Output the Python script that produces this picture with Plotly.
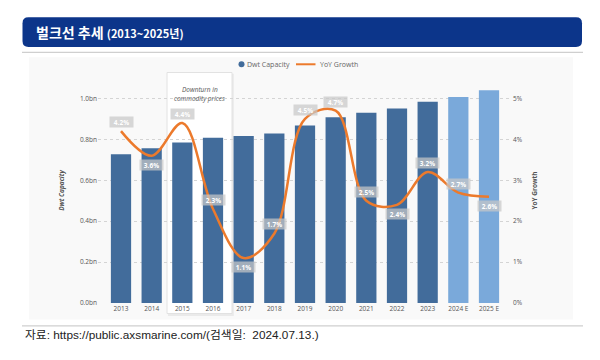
import plotly.graph_objects as go

# ---------------- data ----------------
years = ["2013", "2014", "2015", "2016", "2017", "2018", "2019", "2020",
         "2021", "2022", "2023", "2024 E", "2025 E"]
dwt_capacity_bn = [0.727, 0.756, 0.785, 0.808, 0.816, 0.829, 0.867, 0.908,
                   0.930, 0.951, 0.983, 1.007, 1.040]
yoy_growth_pct = [4.2, 3.6, 4.4, 2.3, 1.1, 1.7, 4.5, 4.7, 2.5, 2.4, 3.2, 2.7, 2.6]
is_estimate = [False] * 11 + [True] * 2
left_tick_vals = [0.0, 0.2, 0.4, 0.6, 0.8, 1.0]
left_tick_text = ["0.0bn", "0.2bn", "0.4bn", "0.6bn", "0.8bn", "1.0bn"]
right_tick_vals = [0, 1, 2, 3, 4, 5]
right_tick_text = ["0%", "1%", "2%", "3%", "4%", "5%"]
# +1 label above point, -1 label below point
label_side = [1, -1, 1, 1, -1, 1, 1, 1, 1, -1, 1, 1, -1]

W, H = 600, 360
def px(x):
    return x / W
def py(y):
    return (H - y) / H

DARK = "#426c9b"
LIGHT = "#7aa9da"
ORANGE = "#ec7a2c"
TXT = "#555555"
FONT = "Open Sans"

fig = go.Figure()

fig.add_trace(go.Bar(
    x=years, y=dwt_capacity_bn,
    marker=dict(color=[LIGHT if e else DARK for e in is_estimate], line=dict(width=0)),
    showlegend=False, name="Dwt Capacity", yaxis="y",
))
fig.add_trace(go.Scatter(
    x=years, y=yoy_growth_pct, mode="lines", name="YoY Growth",
    line=dict(color=ORANGE, width=2.5, shape="spline", smoothing=1.0),
    yaxis="y2", showlegend=False,
))

annotations = []
for i, (v, s) in enumerate(zip(yoy_growth_pct, label_side)):
    annotations.append(dict(
        x=i, y=v, xref="x", yref="y2", text=f"<b>{v}%</b>", showarrow=False,
        yshift=9 * s, width=23, height=10, borderpad=0,
        bgcolor="rgba(200,200,200,0.72)",
        font=dict(family=FONT, size=6.5, color="white"),
    ))

# downturn box text
annotations.append(dict(
    x=2.56, y=py(84), xref="x", yref="paper", showarrow=False,
    text="<i>Downturn in</i>", font=dict(family=FONT, size=6.5, color="#555"),
))
annotations.append(dict(
    x=2.56, y=py(93.5), xref="x", yref="paper", showarrow=False,
    text="<i>commodity prices</i>", font=dict(family=FONT, size=6.5, color="#555"),
))

# custom legend
annotations.append(dict(
    x=px(244.5), y=py(65), xref="paper", yref="paper", xanchor="left", yanchor="middle",
    showarrow=False, text="Dwt Capacity", font=dict(family=FONT, size=7, color="#666"),
))
annotations.append(dict(
    x=px(317.5), y=py(65), xref="paper", yref="paper", xanchor="left", yanchor="middle",
    showarrow=False, text="YoY Growth", font=dict(family=FONT, size=7, color="#666"),
))

# title
annotations.append(dict(
    x=px(34), y=py(32.5), xref="paper", yref="paper", xanchor="left", yanchor="middle",
    showarrow=False,
    text="<b>벌크선 추세</b> <b><span style='font-size:11px'>(2013~2025년)</span></b>",
    font=dict(family="Noto Sans CJK KR", size=14, color="white"),
))
# source
annotations.append(dict(
    x=px(23), y=py(339), xref="paper", yref="paper", xanchor="left", yanchor="middle",
    showarrow=False,
    text="자료: https://public.axsmarine.com/(검색일:  2024.07.13.)",
    font=dict(family="Liberation Sans, Noto Sans CJK KR", size=11.8, color="#222"),
))

r = 6
x0, x1, y0, y1 = 22.5, 582, 17.5, 47.5
band_path = (
    f"M {px(x0 + r)},{py(y0)} L {px(x1 - r)},{py(y0)} "
    f"Q {px(x1)},{py(y0)} {px(x1)},{py(y0 + r)} L {px(x1)},{py(y1 - r)} "
    f"Q {px(x1)},{py(y1)} {px(x1 - r)},{py(y1)} L {px(x0 + r)},{py(y1)} "
    f"Q {px(x0)},{py(y1)} {px(x0)},{py(y1 - r)} L {px(x0)},{py(y0 + r)} "
    f"Q {px(x0)},{py(y0)} {px(x0 + r)},{py(y0)} Z"
)

shapes = [
    dict(type="rect", xref="paper", yref="paper", x0=px(29), x1=px(573), y0=py(323), y1=py(58),
         fillcolor="#f9f9f9", line=dict(width=0), layer="below"),
    dict(type="path", xref="paper", yref="paper", path=band_path,
         fillcolor="#0c358a", line=dict(width=0), layer="below"),
    dict(type="line", xref="paper", yref="paper", x0=px(22), x1=px(583), y0=py(53), y1=py(53),
         line=dict(color="#cfcfcf", width=1.2)),
    dict(type="line", xref="paper", yref="paper", x0=px(22), x1=px(583), y0=py(329.5), y1=py(329.5),
         line=dict(color="#cfcfcf", width=1.2)),
    # downturn box shadow + box
    dict(type="rect", xref="x", yref="paper", x0=1.53, x1=3.68, y0=py(319.5), y1=py(74.5),
         fillcolor="rgba(0,0,0,0.06)", line=dict(width=0), layer="between"),
    dict(type="rect", xref="x", yref="paper", x0=1.50, x1=3.62, y0=py(317), y1=py(73.3),
         fillcolor="white", line=dict(color="#e2e2e2", width=1), layer="between"),
    # legend symbols
    dict(type="circle", xref="paper", yref="paper",
         x0=px(238.5), x1=px(244.5), y0=py(68), y1=py(62),
         fillcolor=DARK, line=dict(width=0)),
    dict(type="line", xref="paper", yref="paper", x0=px(296), x1=px(315.5), y0=py(65), y1=py(65),
         line=dict(color=ORANGE, width=2)),
]

fig.update_layout(
    width=W, height=H, autosize=False,
    margin=dict(l=0, r=0, t=0, b=0),
    paper_bgcolor="white", plot_bgcolor="rgba(0,0,0,0)",
    bargap=0.34,
    font=dict(family=FONT, size=7, color=TXT),
    showlegend=False,
    xaxis=dict(domain=[px(98), px(512)], type="category", range=[-0.75, 12.75],
               showgrid=False, showline=False, ticks="", zeroline=False,
               tickfont=dict(family=FONT, size=6.5, color=TXT)),
    yaxis=dict(domain=[py(306.5), py(78.8)], range=[0, 1.1],
               tickvals=left_tick_vals, ticktext=left_tick_text,
               showgrid=True, gridcolor="#d4d4d4", griddash="dot", gridwidth=1,
               zeroline=False, showline=False, ticks="",
               tickfont=dict(family=FONT, size=6.5, color=TXT),
               title=dict(text="<i><b>Dwt Capacity</b></i>", standoff=14,
                          font=dict(family=FONT, size=6.5, color=TXT))),
    yaxis2=dict(overlaying="y", side="right", range=[0, 5.5],
                tickvals=right_tick_vals, ticktext=right_tick_text,
                showgrid=False, zeroline=False, showline=False, ticks="",
                tickfont=dict(family=FONT, size=6.5, color=TXT),
                title=dict(text="<b>YoY Growth</b>", standoff=10,
                           font=dict(family=FONT, size=6.5, color=TXT))),
    annotations=annotations,
    shapes=shapes,
)

fig.write_html(
    "out.html",
    config={"displayModeBar": False},
    post_script="document.body.style.margin='0';document.body.style.overflow='hidden';",
)
